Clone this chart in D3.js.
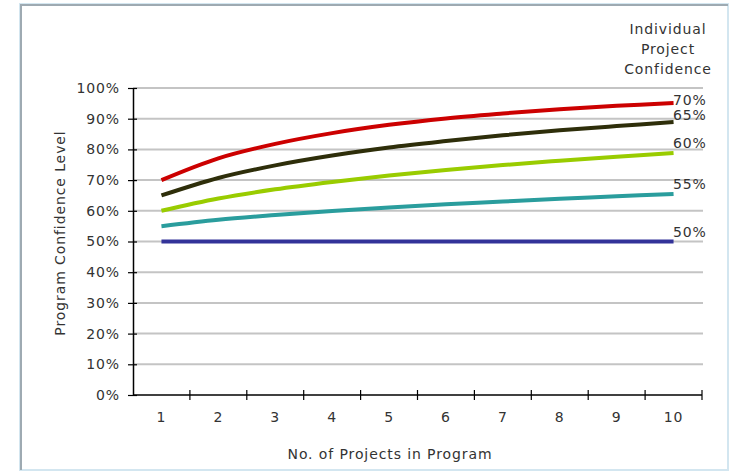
<!DOCTYPE html>
<html>
<head>
<meta charset="utf-8">
<script src="https://cdn.jsdelivr.net/npm/d3@7"></script>
<style>
  html, body { margin: 0; padding: 0; background: #ffffff; }
  svg { display: block; }
  text { font-family: Verdana, "DejaVu Sans", sans-serif; fill: #333333; letter-spacing: 0.9px; }
</style>
</head>
<body>
<svg id="chart" width="729" height="472"></svg>
<script>
// Number of projects in the program
const projects = ["1", "2", "3", "4", "5", "6", "7", "8", "9", "10"];

// Program confidence level (%) for each individual project confidence
const conf70 = [70.0, 77.1, 81.8, 85.3, 88.0, 90.1, 91.7, 93.1, 94.2, 95.1];
const conf65 = [65.0, 70.7, 74.8, 78.0, 80.6, 82.7, 84.6, 86.2, 87.6, 88.9];
const conf60 = [60.0, 64.0, 67.0, 69.4, 71.5, 73.3, 74.9, 76.3, 77.6, 78.8];
const conf55 = [55.0, 57.1, 58.6, 59.9, 61.1, 62.1, 63.0, 63.9, 64.7, 65.5];
const conf50 = [50.0, 50.0, 50.0, 50.0, 50.0, 50.0, 50.0, 50.0, 50.0, 50.0];

const seriesNames = ["70%", "65%", "60%", "55%", "50%"];
const seriesValues = [conf70, conf65, conf60, conf55, conf50];
const seriesColors = ["#cc0000", "#2e2e0a", "#99cc00", "#2a9d9d", "#333399"];
const labelNudge = [-3, -7, -10, -10, -9];

const yTicks = [0, 10, 20, 30, 40, 50, 60, 70, 80, 90, 100];

const svg = d3.select("#chart");

// outer frame: grey on top/left, pale blue on bottom/right
svg.append("rect")
  .attr("x", 20).attr("y", 4).attr("width", 708).attr("height", 466)
  .attr("fill", "#ffffff").attr("stroke", "#d3e6f0").attr("stroke-width", 2);
svg.append("path")
  .attr("d", "M21,470 V5 H728")
  .attr("fill", "none").attr("stroke", "#9eaab2").attr("stroke-width", 2);

const x = d3.scaleBand().domain(projects).range([133, 702]).padding(0);
const y = d3.scaleLinear().domain([0, 100]).range([395, 88]);

// horizontal gridlines
svg.append("g")
  .selectAll("line")
  .data(yTicks.filter(t => t > 0))
  .join("line")
  .attr("x1", 133).attr("x2", 703)
  .attr("y1", d => y(d)).attr("y2", d => y(d))
  .attr("stroke", "#c4c4c4").attr("stroke-width", 2);

// y axis
const yAxis = d3.axisLeft(y)
  .tickValues(yTicks)
  .tickFormat(d => d + "%")
  .tickSizeInner(5)
  .tickSizeOuter(0)
  .tickPadding(9);
const gy = svg.append("g").attr("transform", "translate(133,0)").call(yAxis);
gy.select(".domain").attr("stroke", "#000").attr("stroke-width", 1.5);
gy.selectAll(".tick line").attr("x2", 4).attr("x1", -5).attr("stroke", "#000").attr("stroke-width", 1.2);
gy.selectAll(".tick text")
  .attr("font-size", 14).attr("fill", "#333").attr("x", -13)
  .style("font-family", "Verdana, 'DejaVu Sans', sans-serif");

// x axis: ticks sit between categories
const gx = svg.append("g").attr("transform", "translate(0,395)");
gx.append("line")
  .attr("x1", 133).attr("x2", x.range()[1])
  .attr("stroke", "#000").attr("stroke-width", 1.5);
const edges = projects.map(p => x(p)).concat([x.range()[1]]);
gx.selectAll("line.tk")
  .data(edges.slice(1))
  .join("line")
  .attr("class", "tk")
  .attr("x1", d => d).attr("x2", d => d)
  .attr("y1", -5).attr("y2", 5)
  .attr("stroke", "#000").attr("stroke-width", 1.2);
gx.selectAll("text")
  .data(projects)
  .join("text")
  .attr("x", d => x(d) + x.bandwidth() / 2)
  .attr("y", 27)
  .attr("text-anchor", "middle")
  .attr("font-size", 14)
  .text(d => d);

// series lines
const line = d3.line()
  .x((d, i) => x(projects[i]) + x.bandwidth() / 2)
  .y(d => y(d))
  .curve(d3.curveCatmullRom.alpha(0.5));

svg.append("g")
  .selectAll("path")
  .data(seriesValues.slice().reverse())
  .join("path")
  .attr("d", d => line(d))
  .attr("fill", "none")
  .attr("stroke", (d, i) => seriesColors[seriesColors.length - 1 - i])
  .attr("stroke-width", 4)
  .attr("stroke-linecap", "butt");

// end labels
svg.append("g")
  .selectAll("text")
  .data(seriesNames)
  .join("text")
  .attr("x", 673)
  .attr("y", (d, i) => y(seriesValues[i][seriesValues[i].length - 1]) + labelNudge[i])
  .attr("dy", "0.35em")
  .attr("font-size", 14)
  .text(d => d);

// legend heading
const head = svg.append("text")
  .attr("x", 668).attr("y", 34)
  .attr("text-anchor", "middle")
  .attr("font-size", 14);
["Individual", "Project", "Confidence"].forEach((t, i) => {
  head.append("tspan").attr("x", 668).attr("dy", i === 0 ? 0 : 20).text(t);
});

// axis titles
svg.append("text")
  .attr("transform", "translate(65,233) rotate(-90)")
  .attr("text-anchor", "middle")
  .attr("font-size", 14)
  .text("Program Confidence Level");

svg.append("text")
  .attr("x", 390).attr("y", 459)
  .attr("text-anchor", "middle")
  .attr("font-size", 14)
  .text("No. of Projects in Program");
</script>
</body>
</html>
